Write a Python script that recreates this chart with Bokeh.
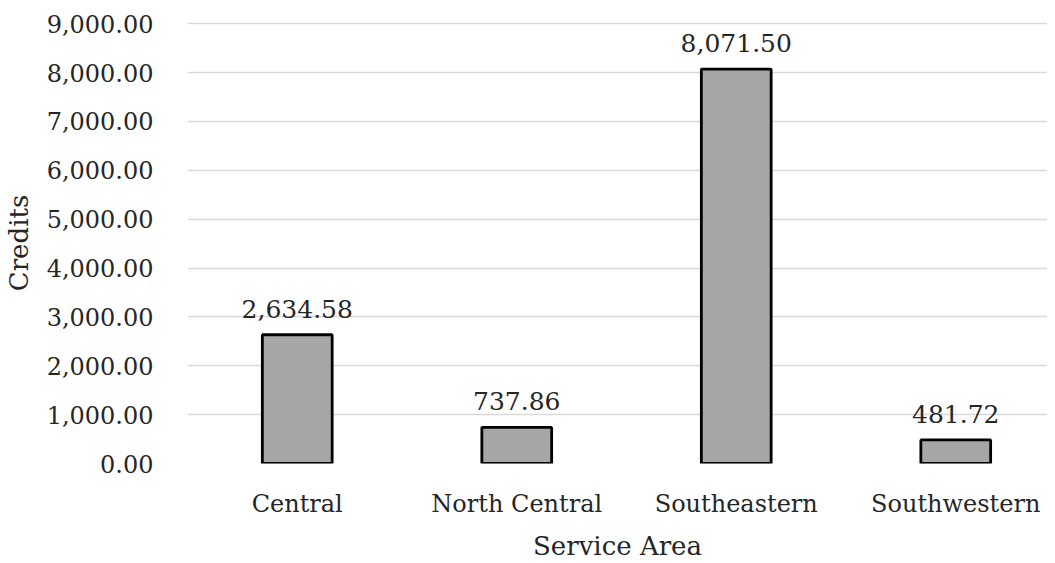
from bokeh.plotting import figure
from bokeh.models import ColumnDataSource, Range1d, FixedTicker, NumeralTickFormatter
from bokeh.core.properties import value
from bokeh.embed import file_html
from bokeh.resources import INLINE

categories = ["Central", "North Central", "Southeastern", "Southwestern"]
credits = [2634.58, 737.86, 8071.50, 481.72]
y_ticks = [0, 1000, 2000, 3000, 4000, 5000, 6000, 7000, 8000, 9000]

FONT = "DejaVu Serif"
TXT = "#262626"

xs = list(range(len(categories)))
src = ColumnDataSource(dict(
    x=xs,
    y=credits,
    lab=[f"{v:,.2f}" for v in credits],
))

p = figure(width=1047, height=563, output_backend="svg", toolbar_location=None,
           x_range=Range1d(-0.5, 3.418), y_range=Range1d(0, 9025),
           min_border_left=185, min_border_right=0, min_border_top=22,
           min_border_bottom=93)
p.outline_line_color = None
p.background_fill_color = "white"

p.vbar(x="x", top="y", bottom=0, width=0.318, source=src,
       fill_color="#a6a6a6", line_color="black", line_width=2.8)

p.text(x="x", y="y", text="lab", source=src, y_offset=-17,
       text_align="center", text_baseline="bottom",
       text_font=value(FONT), text_font_size="25px", text_color=TXT)

# axes
p.xaxis.ticker = FixedTicker(ticks=xs)
p.xaxis.major_label_overrides = {i: c for i, c in zip(xs, categories)}
p.yaxis.ticker = FixedTicker(ticks=y_ticks)
p.yaxis.formatter = NumeralTickFormatter(format="0,0.00")
for ax in (p.xaxis, p.yaxis):
    ax.axis_line_color = None
    ax.major_tick_line_color = None
    ax.minor_tick_line_color = None
    ax.major_label_text_font = FONT
    ax.major_label_text_font_size = "24px"
    ax.major_label_text_color = TXT
    ax.axis_label_text_font = FONT
    ax.axis_label_text_font_size = "26px"
    ax.axis_label_text_font_style = "normal"
    ax.axis_label_text_color = TXT
p.xaxis.axis_label = "Service Area"
p.yaxis.axis_label = "Credits"
p.xaxis.major_label_standoff = 20
p.xaxis.axis_label_standoff = 10
p.yaxis.major_label_standoff = 28
p.yaxis.axis_label_standoff = 10

p.xgrid.grid_line_color = None
p.ygrid.ticker = FixedTicker(ticks=y_ticks)
p.ygrid.grid_line_color = "#d9d9d9"
p.ygrid.grid_line_width = 1.5

open("out.html", "w").write(file_html(p, INLINE))
